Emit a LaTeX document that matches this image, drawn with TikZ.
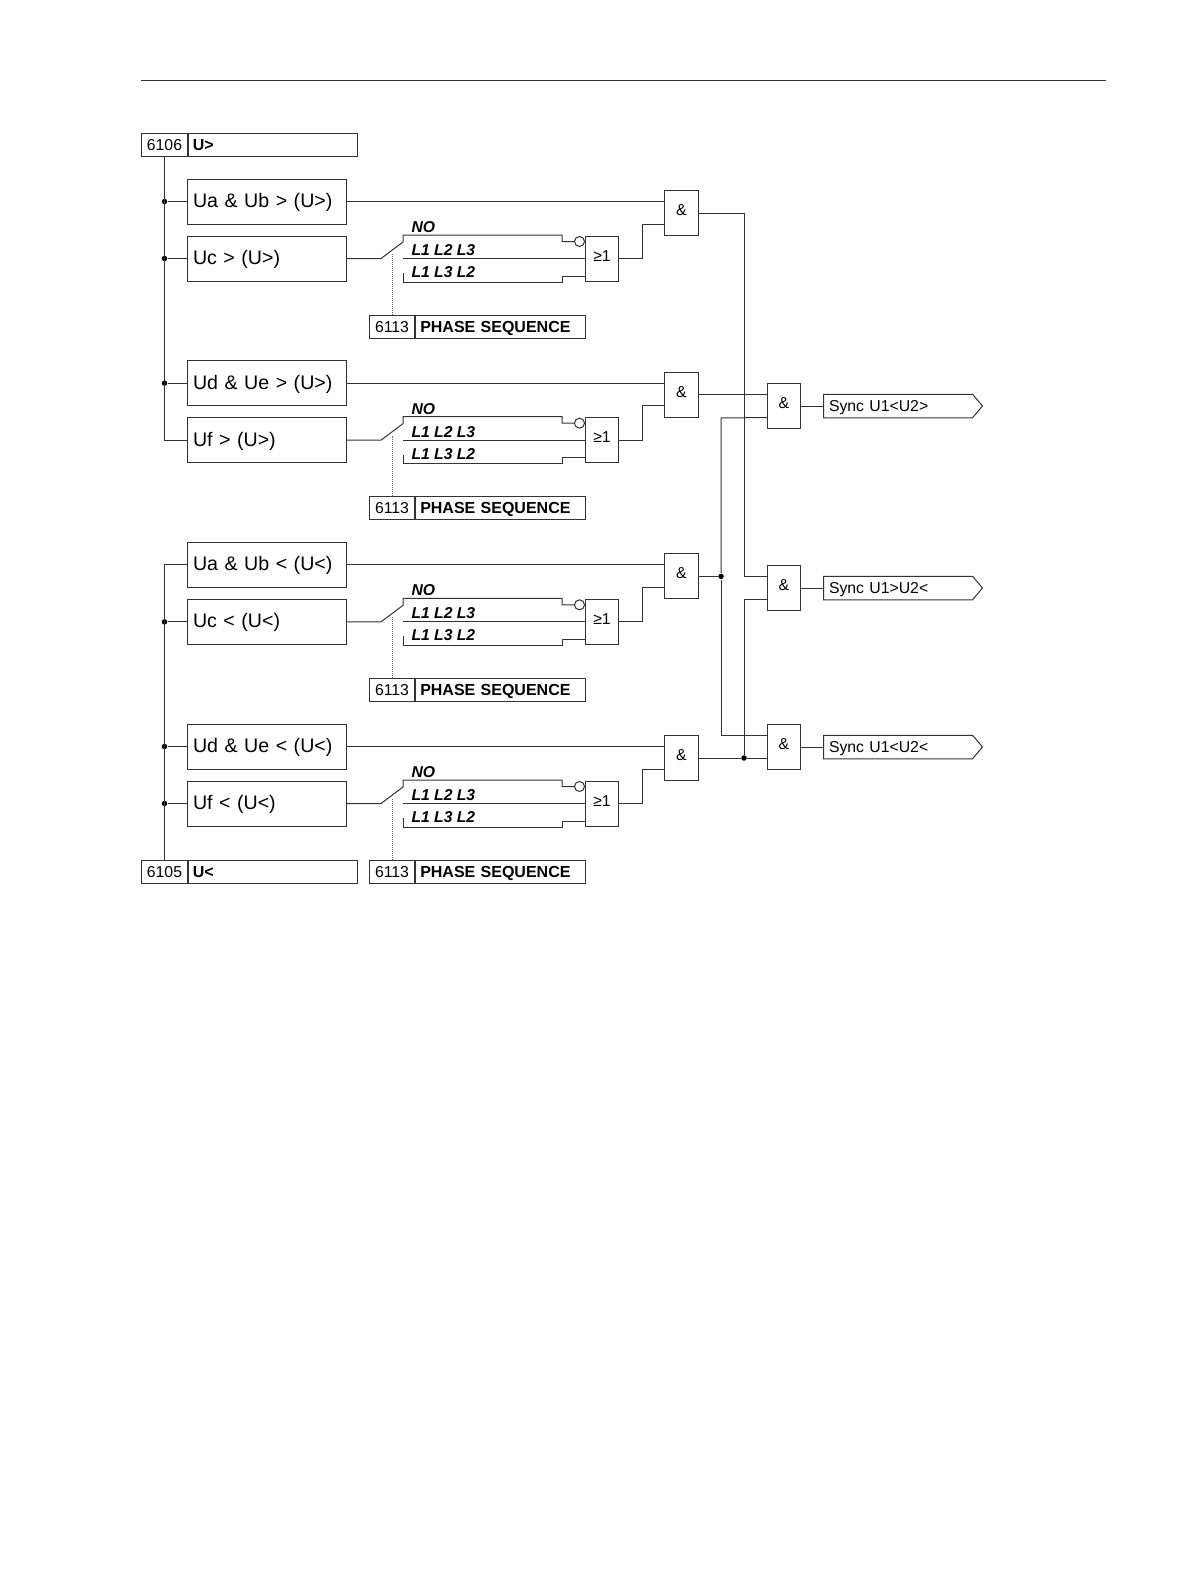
\documentclass[tikz,border=0pt]{standalone}
\usepackage{fontspec}
\setmainfont{Liberation Sans}
\usetikzlibrary{calc}

\begin{document}
\begin{tikzpicture}[x=1pt, y=-1pt, line width=1pt, draw=black!80,
    big/.style={font=\fontsize{19.6}{22}\selectfont},
    small/.style={font=\fontsize{15.8}{18}\selectfont},
    logicbox/.style={draw, big, inner sep=0pt, minimum height=45pt, text width=147pt, inner xsep=6pt, minimum width=159pt, text height=16pt, text depth=4pt, align=left},
    gate/.style={draw, small, inner sep=0pt, minimum width=33.5pt, minimum height=45pt, text height=5pt, text depth=0pt},
    numbox/.style={draw, small, inner sep=0pt, minimum width=45.5pt, minimum height=23pt, text height=11.5pt, text depth=0.5pt},
    titlebox/.style={draw, small, inner sep=0pt, inner xsep=4.5pt, minimum width=169.5pt, text width=160.5pt, minimum height=23pt, text height=11.5pt, text depth=0.5pt, align=left, anchor=west, font=\fontsize{16}{18}\selectfont\bfseries},
    contact/.style={inner sep=0pt, anchor=west, font=\fontsize{15.7}{18}\selectfont\bfseries\itshape},
    junction/.style={circle, fill=black, inner sep=0pt, minimum size=5.5pt},
    negation/.style={circle, draw, fill=white, inner sep=0pt, minimum size=10pt},
    signalname/.style={small, inner sep=0pt, inner xsep=5pt, minimum width=158pt, minimum height=22.5pt, text width=148pt, text height=11.5pt, text depth=0.5pt, align=left}]

  \useasboundingbox (0, 0) rectangle (1191, 1587);

  \coordinate (ruleleft) at (141, 80.4);
  \coordinate (ruleright) at (1105.5, 80.4);
  \draw (ruleleft) -- (ruleright);

  \foreach \upper/\lower/\dy [count=\n] in {Ua \& Ub > (U>)/Uc > (U>)/0, Ud \& Ue > (U>)/Uf > (U>)/181.67,
                                            Ua \& Ub < (U<)/Uc < (U<)/363.33, Ud \& Ue < (U<)/Uf < (U<)/545} {
    \begin{scope}[shift={(0, \dy)}]
      \node[logicbox] (top\n) at (266.5, 201.5) { \upper };
      \node[logicbox] (low\n) at (266.5, 258.5) { \lower };
      \node[gate] (and\n) at (681.5, 213) { \& };
      \node[gate] (or\n) at (602, 258.5) { ≥1 };

      \node[contact] (no\n) at (411, 227) { NO };
      \node[contact] (abc\n) at (411, 250) { L1 L2 L3 };
      \node[contact] (acb\n) at (411, 272) { L1 L3 L2 };

      \coordinate (pole\n) at (403, 242);
      \coordinate (mid\n) at (642, 224);
      \coordinate (in\n) at (664.5, 224);
      \coordinate (tap\n) at (392, 254);

      \node[negation] (neg\n) at (579.5, 241.5) {};

      \node[numbox] (num\n) at (392, 326.5) { 6113 };
      \node[titlebox] (seq\n) at (num\n.east) { PHASE SEQUENCE };

      \draw (top\n.east) -- (top\n.east -| and\n.west);
      \draw (low\n.east) -- ++(34.5, 0) -- (pole\n) -- ++(0, -7) -- ++(159, 0) -- ++(0, 6.5) -- (neg\n.west);
      \draw (low\n.east -| pole\n) -- (or\n.west);
      \draw (403, 273) -- (403, 282) -- (562, 282) -- (562, 276) -- (or\n.west |- 0, 276);
      \draw (or\n.east) -| (mid\n) -- (in\n);
      \draw[densely dotted, draw=black!60] (num\n.north) -- (tap\n);
    \end{scope}
  }

  \node[numbox] (numup) at (164.5, 144.5) { 6106 };
  \node[titlebox] (titleup) at (numup.east) { U> };
  \node[numbox] (numdown) at (164.5, 871.8) { 6105 };
  \node[titlebox] (titledown) at (numdown.east) { U< };

  \node[junction] (ja) at (numup.south |- top1.west) {};
  \node[junction] (jb) at (numup.south |- low1.west) {};
  \node[junction] (jc) at (numup.south |- top2.west) {};
  \node[junction] (jd) at (numup.south |- low3.west) {};
  \node[junction] (je) at (numup.south |- top4.west) {};
  \node[junction] (jf) at (numup.south |- low4.west) {};

  \draw (numup.south) -- (numup.south |- low2.west) -- (low2.west);
  \draw (numdown.north) -- (numdown.north |- top3.west) -- (top3.west);
  \foreach \j/\b in {ja/top1, jb/low1, jc/top2, jd/low3, je/top4, jf/low4} {
    \draw (\j) -- (\b);
  }

  \foreach \y/\label [count=\n] in {406/Sync U1<U2>, 588/Sync U1>U2<, 747/Sync U1<U2<} {
    \node[gate] (res\n) at (784, \y) { \& };
    \node[signalname] (sig\n) at (903, \y) { \label };
    \draw (sig\n.north west) -- ($(sig\n.north east) + (-10, 0)$) -- (sig\n.east)
       -- ($(sig\n.south east) + (-10, 0)$) -- (sig\n.south west) -- cycle;
    \draw (res\n.east) -- (sig\n.west);
    \coordinate (resa\n) at ($(res\n.west) + (0, -11.5)$);
    \coordinate (resb\n) at ($(res\n.west) + (0, 11.5)$);
  }

  \coordinate (busa) at (721, 418);
  \coordinate (busb) at (721, 735.5);
  \coordinate (busc) at (744, 0);
  \coordinate (busd) at (744, 599.5);

  \node[junction] (jg) at (and3.east -| busa) {};
  \node[junction] (jh) at (and4.east -| busd) {};

  \draw (and1.east) -| (busc |- and3.east) -- (and3.east -| res2.west);
  \draw (and2.east) -- (and2.east -| res1.west);
  \draw (and3.east) -- (jg);
  \draw (jg) -- (busa) -- (resb1);
  \draw (jg) -- (busb) -- (resa3);
  \draw (and4.east) -- (jh) -- (jh -| res3.west);
  \draw (jh) -- (busd) -- (resb2);

\end{tikzpicture}
\end{document}
